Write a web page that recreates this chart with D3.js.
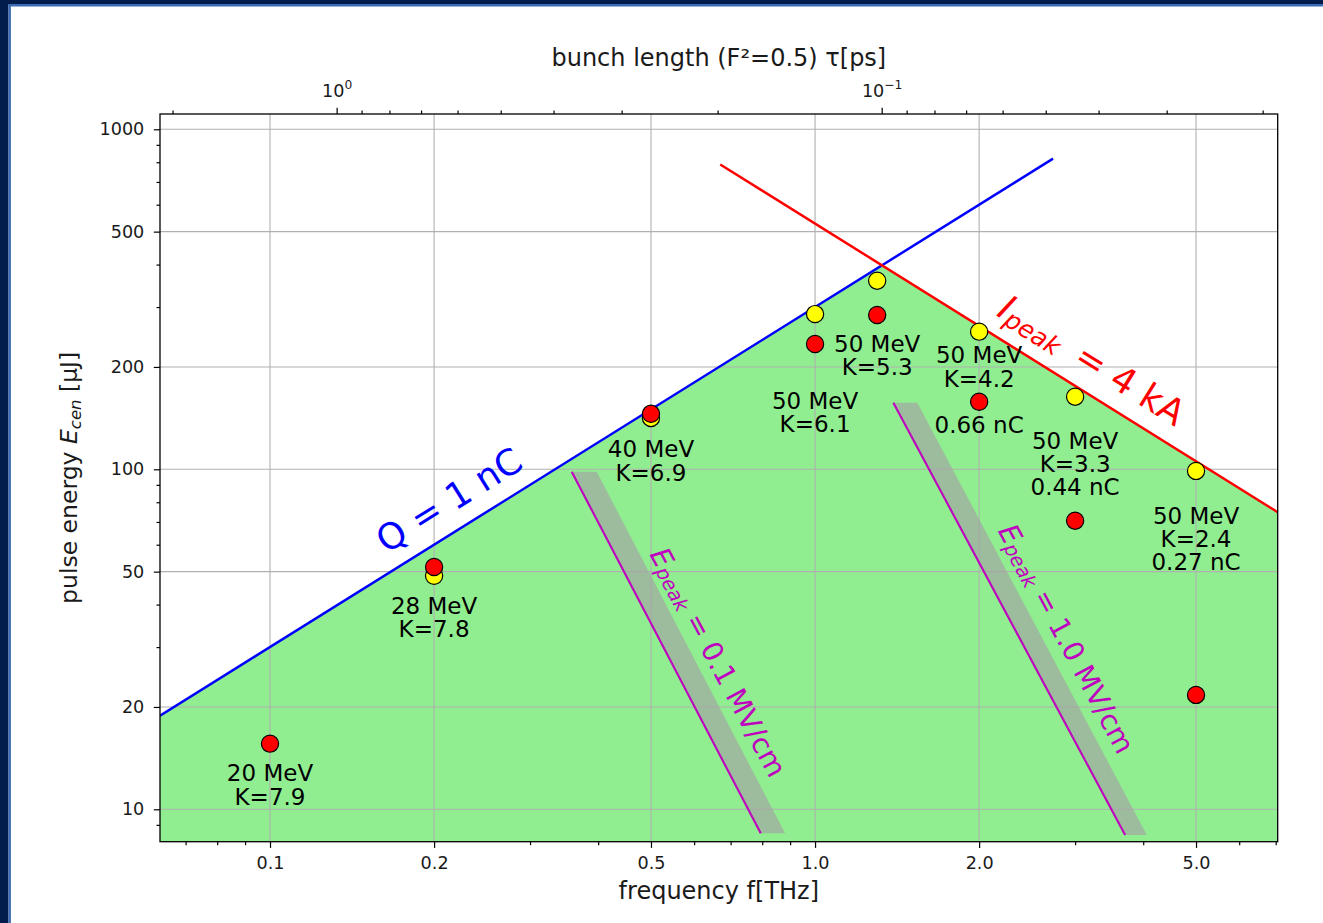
<!DOCTYPE html>
<html>
<head>
<meta charset="utf-8">
<script src="https://cdn.jsdelivr.net/npm/d3@7"></script>
<style>
  html, body { margin: 0; padding: 0; background: #ffffff; }
  svg { display: block; font-family: "DejaVu Sans", "Liberation Sans", sans-serif; }
</style>
</head>
<body>
<svg id="chart" width="1323" height="923"></svg>
<script>
// ---- axis ticks ----
const freqMajor = [0.1, 0.2, 0.5, 1.0, 2.0, 5.0];
const freqMajorLabels = ["0.1", "0.2", "0.5", "1.0", "2.0", "5.0"];
const freqMinor = [0.07, 0.08, 0.09, 0.3, 0.4, 0.6, 0.7, 0.8, 0.9, 3, 4, 6, 7];
const energyMajor = [10, 20, 50, 100, 200, 500, 1000];
const energyMinor = [9, 30, 40, 60, 70, 80, 90, 300, 400, 600, 700, 800, 900];
const tauMajor = [1, 0.1];
const tauMajorExp = ["0", "\u22121"];
const tauMinor = [2, 0.9, 0.8, 0.7, 0.6, 0.5, 0.4, 0.3, 0.2,
                  0.09, 0.08, 0.07, 0.06, 0.05, 0.04, 0.03, 0.02];

// ---- axis limits ----
const freqLimits = [0.06283, 7.06];     // THz
const energyLimits = [8.03, 1109];      // µJ

// ---- measured operating points (f in THz, pulse energy in µJ) ----
const pointFreq    = [0.1,  0.2,  0.5,   1.0,   1.3,   2.0,   3.0,   5.0];
const energyYellow = [null, 48.6, 141.6, 286.0, 358.6, 254.0, 163.5, 98.9];
const energyRed    = [15.6, 51.6, 145.6, 233.6, 284.3, 158.0, 70.6,  21.7];

// ---- limit lines ----
const qLineFreq = [0.06283, 2.733];
const qLineEnergy = [18.85, 820];
const ipeakLineFreq = [0.67, 7.06];
const ipeakLineEnergy = [788, 74.8];

// peak-field lines and the shaded band to their right
const epeakLabels = ["0.1", "1.0"];
const epeakFreqTop = [0.3577, 1.392];
const epeakFreqTopEdge = [0.3976, 1.540];
const epeakEnergyTop = [98.4, 157];
const epeakFreqBottom = [0.7949, 3.706];
const epeakFreqBottomEdge = [0.881, 4.061];
const epeakEnergyBottom = [8.5, 8.4];

// ---- point annotations (beam energy, undulator K, charge) ----
const noteFreq = [0.1, 0.2, 0.5, 1.0, 1.3, 2.0, 2.0, 3.0, 5.0];
const noteEnergy = [11.79, 36.6, 105.8, 147.2, 216.3, 200.0, 135.3, 103.7, 62.4];
const noteLines = [
  ["20 MeV", "K=7.9"],
  ["28 MeV", "K=7.8"],
  ["40 MeV", "K=6.9"],
  ["50 MeV", "K=6.1"],
  ["50 MeV", "K=5.3"],
  ["50 MeV", "K=4.2"],
  ["0.66 nC"],
  ["50 MeV", "K=3.3", "0.44 nC"],
  ["50 MeV", "K=2.4", "0.27 nC"]
];

// anchor points (data coords) for the rotated line labels
const qLabelAt = [0.2130, 81.2];
const ipeakLabelAt = [3.224, 209.6];
const epeakLabelFreq = [0.665, 2.894];
const epeakLabelEnergy = [27.1, 31.8];

// bunch length for a Gaussian bunch whose form factor F^2 = 0.5
const TAU_K = Math.sqrt(Math.LN2) / (2 * Math.PI);

// ---- layout ----
const plot = { left: 160, right: 1277.7, top: 114, bottom: 841.7 };
const FONT = "'DejaVu Sans', 'Liberation Sans', sans-serif";
const MAGENTA = "#bf00bf";

const x = d3.scaleLog().domain(freqLimits).range([plot.left, plot.right]);
const y = d3.scaleLog().domain(energyLimits).range([plot.bottom, plot.top]);
const xTau = d3.scaleLog()
  .domain([TAU_K / freqLimits[0], TAU_K / freqLimits[1]])
  .range([plot.left, plot.right]);

const svg = d3.select("#chart");

// window frame along the top and left edges
svg.append("rect").attr("x", 0).attr("y", 0).attr("width", 1323).attr("height", 4.5).attr("fill", "#021c4b");
svg.append("rect").attr("x", 0).attr("y", 0).attr("width", 8.5).attr("height", 923).attr("fill", "#021c4b");
svg.append("path").attr("d", "M9.7,923V5.2H1323").attr("fill", "none")
  .attr("stroke", "#3b6cb3").attr("stroke-width", 2.4);

const defs = svg.append("defs");
defs.append("clipPath").attr("id", "plotClip").append("rect")
  .attr("x", plot.left).attr("y", plot.top)
  .attr("width", plot.right - plot.left).attr("height", plot.bottom - plot.top);

const gPlot = svg.append("g").attr("clip-path", "url(#plotClip)");

// ---- accessible region: below both the charge line and the current line ----
const lg = Math.log10;
function logLine(fs, es) {
  const x0 = lg(fs[0]), y0 = lg(es[0]), x1 = lg(fs[1]), y1 = lg(es[1]);
  const m = (y1 - y0) / (x1 - x0);
  return { m: m, b: y0 - m * x0 };
}
const qL = logLine(qLineFreq, qLineEnergy);
const iL = logLine(ipeakLineFreq, ipeakLineEnergy);
const apexLogF = (iL.b - qL.b) / (qL.m - iL.m);
const apex = [Math.pow(10, apexLogF), Math.pow(10, qL.m * apexLogF + qL.b)];

const region = [
  [qLineFreq[0], energyLimits[0]],
  [qLineFreq[0], qLineEnergy[0]],
  apex,
  [ipeakLineFreq[1], ipeakLineEnergy[1]],
  [ipeakLineFreq[1], energyLimits[0]]
];
const line = d3.line().x(d => x(d[0])).y(d => y(d[1]));

gPlot.append("path").attr("d", line(region) + "Z").attr("fill", "#90ee90");

// ---- grid ----
const gGrid = gPlot.append("g").attr("stroke", "#b0b0b0").attr("stroke-width", 1.1);
gGrid.selectAll("line.v").data(freqMajor).join("line").attr("class", "v")
  .attr("x1", d => x(d)).attr("x2", d => x(d))
  .attr("y1", plot.top).attr("y2", plot.bottom);
gGrid.selectAll("line.h").data(energyMajor).join("line").attr("class", "h")
  .attr("x1", plot.left).attr("x2", plot.right)
  .attr("y1", d => y(d)).attr("y2", d => y(d));

// ---- peak-field bands and lines ----
epeakLabels.forEach((lab, i) => {
  const band = [
    [epeakFreqTop[i], epeakEnergyTop[i]],
    [epeakFreqTopEdge[i], epeakEnergyTop[i]],
    [epeakFreqBottomEdge[i], epeakEnergyBottom[i]],
    [epeakFreqBottom[i], epeakEnergyBottom[i]]
  ];
  gPlot.append("path").attr("d", line(band) + "Z")
    .attr("fill", "#a4a4a4").attr("fill-opacity", 0.68);
  gPlot.append("path")
    .attr("d", line([[epeakFreqTop[i], epeakEnergyTop[i]], [epeakFreqBottom[i], epeakEnergyBottom[i]]]))
    .attr("fill", "none").attr("stroke", MAGENTA).attr("stroke-width", 2.1);
});

// ---- charge and peak-current lines ----
gPlot.append("path")
  .attr("d", line(qLineFreq.map((f, i) => [f, qLineEnergy[i]])))
  .attr("fill", "none").attr("stroke", "#0000ff").attr("stroke-width", 2.5);
gPlot.append("path")
  .attr("d", line(ipeakLineFreq.map((f, i) => [f, ipeakLineEnergy[i]])))
  .attr("fill", "none").attr("stroke", "#ff0000").attr("stroke-width", 2.5);

// ---- operating points ----
const yellowPts = pointFreq.map((f, i) => [f, energyYellow[i]]).filter(d => d[1] != null);
const redPts = pointFreq.map((f, i) => [f, energyRed[i]]).filter(d => d[1] != null);
gPlot.append("g").selectAll("circle").data(yellowPts).join("circle")
  .attr("cx", d => x(d[0])).attr("cy", d => y(d[1])).attr("r", 8.6)
  .attr("fill", "#ffff00").attr("stroke", "#000").attr("stroke-width", 1.2);
gPlot.append("g").selectAll("circle").data(redPts).join("circle")
  .attr("cx", d => x(d[0])).attr("cy", d => y(d[1])).attr("r", 8.6)
  .attr("fill", "#ff0000").attr("stroke", "#000").attr("stroke-width", 1.2);

// ---- point annotations: one multi-line text block per point ----
const LINE_STEP = 23.3;
const gNotes = svg.append("g").attr("font-family", FONT).attr("font-size", 23)
  .attr("fill", "#000").attr("text-anchor", "middle");
noteLines.forEach((lines, i) => {
  const cx = x(noteFreq[i]);
  const top = y(noteEnergy[i]) - (lines.length - 1) / 2 * LINE_STEP;
  const t = gNotes.append("text")
    .attr("x", cx).attr("y", top)
    .attr("dominant-baseline", "central");
  lines.forEach((s, j) => {
    t.append("tspan")
      .attr("x", cx)
      .attr("dy", j === 0 ? 0 : LINE_STEP)
      .text(s);
  });
});

// ---- rotated line labels ----
const screenAngle = Math.atan2(y(10) - y(100), x(1) - x(0.1)) * 180 / Math.PI; // slope of E ~ f on screen

svg.append("text")
  .attr("transform", `translate(${x(qLabelAt[0])},${y(qLabelAt[1])}) rotate(${-screenAngle})`)
  .attr("text-anchor", "middle").attr("dominant-baseline", "central")
  .attr("font-family", FONT).attr("font-size", 36).attr("fill", "#0000ff")
  .text("Q = 1 nC");

const ipk = svg.append("text")
  .attr("transform", `translate(${x(ipeakLabelAt[0])},${y(ipeakLabelAt[1])}) rotate(${screenAngle})`)
  .attr("text-anchor", "middle").attr("dominant-baseline", "central")
  .attr("font-family", FONT).attr("font-size", 36).attr("fill", "#ff0000");
ipk.append("tspan").attr("font-style", "italic").text("I");
ipk.append("tspan").attr("font-style", "italic").attr("font-size", 25).attr("dy", 8).text("peak");
ipk.append("tspan").attr("dy", -8).text("\u2009 = 4 kA");

const epeakAngle = Math.atan2(
  y(epeakEnergyBottom[1]) - y(epeakEnergyTop[1]),
  x(epeakFreqBottom[1]) - x(epeakFreqTop[1])) * 180 / Math.PI;
epeakLabels.forEach((lab, i) => {
  const t = svg.append("text")
    .attr("transform", `translate(${x(epeakLabelFreq[i])},${y(epeakLabelEnergy[i])}) rotate(${epeakAngle})`)
    .attr("text-anchor", "middle").attr("dominant-baseline", "central")
    .attr("font-family", FONT).attr("font-size", 28).attr("fill", MAGENTA);
  t.append("tspan").attr("font-style", "italic").text("E");
  t.append("tspan").attr("font-style", "italic").attr("font-size", 19.5).attr("dy", 6).text("peak");
  t.append("tspan").attr("dy", -6).text(" = " + lab + " MV/cm");
});

// ---- axes ----
const TICK_FONT = 17.6;
function styleAxis(g) {
  g.select(".domain").remove();
  g.selectAll(".tick line").attr("stroke", "#000").attr("stroke-width", 1.2);
  g.selectAll(".tick text").attr("font-family", FONT).attr("font-size", TICK_FONT).attr("fill", "#1a1a1a");
}

svg.append("g").attr("transform", `translate(0,${plot.bottom})`)
  .call(d3.axisBottom(x).tickValues(freqMinor).tickSize(3.5).tickFormat(""))
  .call(styleAxis);
svg.append("g").attr("transform", `translate(0,${plot.bottom})`)
  .call(d3.axisBottom(x).tickValues(freqMajor).tickSize(6.2).tickPadding(9)
    .tickFormat((d, i) => freqMajorLabels[i]))
  .call(styleAxis);

svg.append("g").attr("transform", `translate(${plot.left},0)`)
  .call(d3.axisLeft(y).tickValues(energyMinor).tickSize(3.5).tickFormat(""))
  .call(styleAxis);
svg.append("g").attr("transform", `translate(${plot.left},0)`)
  .call(d3.axisLeft(y).tickValues(energyMajor).tickSize(6.2).tickPadding(9.5)
    .tickFormat(d => String(d)))
  .call(styleAxis);

svg.append("g").attr("transform", `translate(0,${plot.top})`)
  .call(d3.axisTop(xTau).tickValues(tauMinor).tickSize(3.5).tickFormat(""))
  .call(styleAxis);
const topMajor = svg.append("g").attr("transform", `translate(0,${plot.top})`)
  .call(d3.axisTop(xTau).tickValues(tauMajor).tickSize(6.2).tickFormat(""))
  .call(styleAxis);
topMajor.selectAll(".tick").each(function (d, i) {
  const t = d3.select(this).append("text")
    .attr("x", 0).attr("y", -17.3)
    .attr("text-anchor", "middle")
    .attr("font-family", FONT).attr("font-size", TICK_FONT).attr("fill", "#1a1a1a");
  t.append("tspan").text("10");
  t.append("tspan").attr("font-size", 12.3).attr("dy", -7.5).text(tauMajorExp[i]);
});

// frame of the plotting area
svg.append("rect")
  .attr("x", plot.left).attr("y", plot.top)
  .attr("width", plot.right - plot.left).attr("height", plot.bottom - plot.top)
  .attr("fill", "none").attr("stroke", "#000").attr("stroke-width", 1.3);

// ---- axis titles ----
const midX = (plot.left + plot.right) / 2;
svg.append("text").attr("x", midX).attr("y", 66)
  .attr("text-anchor", "middle").attr("font-family", FONT).attr("font-size", 24).attr("fill", "#1a1a1a")
  .text("bunch length (F\u00b2=0.5) \u03c4[ps]");
svg.append("text").attr("x", midX).attr("y", 899)
  .attr("text-anchor", "middle").attr("font-family", FONT).attr("font-size", 24).attr("fill", "#1a1a1a")
  .text("frequency f[THz]");
const yl = svg.append("text")
  .attr("transform", `translate(76.5,${(plot.top + plot.bottom) / 2}) rotate(-90)`)
  .attr("text-anchor", "middle").attr("font-family", FONT).attr("font-size", 23.5).attr("fill", "#1a1a1a");
yl.append("tspan").text("pulse energy ");
yl.append("tspan").attr("font-style", "italic").text("E");
yl.append("tspan").attr("font-style", "italic").attr("font-size", 16.5).attr("dy", 4.5).text("cen");
yl.append("tspan").attr("dy", -4.5).text(" [\u03bcJ]");
</script>
</body>
</html>
